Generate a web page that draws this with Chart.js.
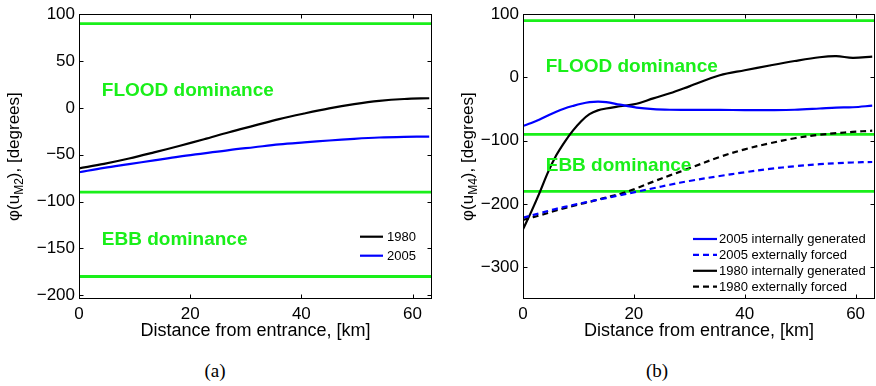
<!DOCTYPE html>
<html>
<head>
<meta charset="utf-8">
<script src="https://cdn.jsdelivr.net/npm/chart.js@4.4.0/dist/chart.umd.min.js"></script>
<style>
  html, body { margin: 0; padding: 0; background: #fff; }
  #wrap { position: relative; width: 876px; height: 386px; overflow: hidden; }
  canvas { position: absolute; top: 0; }
  #phaseM2 { left: 0; }
  #phaseM4 { left: 440px; }
  .cap { position: absolute; top: 360px; line-height: 22px; font: 19px "Liberation Serif", "Times New Roman", serif; transform: translateX(-50%); }
</style>
</head>
<body>
<div id="wrap">
  <canvas id="phaseM2" width="440" height="345"></canvas>
  <canvas id="phaseM4" width="436" height="345"></canvas>
  <div class="cap" style="left:215px">(a)</div>
  <div class="cap" style="left:657px">(b)</div>
</div>
<script>
const SANS = '"Liberation Sans", Arial, Helvetica, sans-serif';
const GREEN = '#1aef1a';
const KM_MAX = 63.5;

// (a) M2 phase along the estuary
const kmM2 = [0, 4.5, 9, 13.5, 18, 22.5, 27, 31.5, 36, 40.5, 45, 49.5, 54, 58.5, 63];
const phiM2_1980 = [-64.5, -59.7, -54, -47.5, -40.7, -33.5, -26, -19, -12, -6, -0.5, 4, 7.5, 9.5, 10.3];
const phiM2_2005 = [-68.7, -64, -60, -56, -52, -48.5, -45, -42, -39, -36.8, -34.8, -33, -31.6, -30.9, -30.6];
const ticksM2 = [-200, -150, -100, -50, 0, 50, 100];

// (b) M4 phase, internally generated vs externally forced
const kmM4 = [0, 1.5, 3, 4.5, 6, 7.5, 9, 10.5, 12, 13.5, 15, 17.5, 20.5, 23.5, 26.5, 30, 35.5, 40, 44.5, 49, 53.5, 56.5, 59.5, 63];
const phiM4_2005_int = [-76.6, -72, -66.5, -60, -54, -49, -45, -41.5, -39, -38, -38.8, -43, -47.5, -50, -51, -51.3, -51.3, -51.5, -51.5, -51, -49, -47.5, -47, -44.5];
const phiM4_2005_ext = [-221.5, -218, -214.5, -211, -207.5, -204.5, -201.5, -198.7, -196, -193.3, -190.5, -186, -180.5, -175, -169.5, -163.5, -155.7, -149.7, -144.5, -140.2, -137, -135.5, -134.3, -133.5];
const phiM4_1980_int = [-240, -212, -182, -150, -123, -102, -84, -69, -58, -52, -49, -45.5, -41.5, -33, -25, -14, 3.5, 11.5, 19, 26, 32, 33.7, 31, 33];
const phiM4_1980_ext = [-225, -221.5, -218, -214, -210, -206.5, -203, -199.5, -196.5, -193, -189.5, -184, -175, -164.5, -154.7, -143.5, -125.5, -113.5, -104, -96, -90.5, -88, -86, -84];
const ticksM4 = [-300, -200, -100, 0, 100];

const kmTicks = [0, 20, 40, 60];
// flood/ebb dominance limits
const dominanceLimits = [90, -90, -180];

const pts = (xs, ys) => xs.map((x, i) => ({ x, y: ys[i] }));

function series(label, xs, ys, color, dashed) {
  return {
    label, data: pts(xs, ys), borderColor: color, borderWidth: 2.2,
    borderDash: dashed ? [6, 4] : [], pointRadius: 0, tension: 0.35, order: 0
  };
}

function limitLines() {
  return dominanceLimits.map(v => ({
    data: [{ x: 0, y: v }, { x: KM_MAX, y: v }],
    borderColor: GREEN, borderWidth: 2.8, pointRadius: 0, order: 10
  }));
}

const minusLabel = v => (v < 0 ? '\u2212' + Math.abs(v) : String(v));

// box, inward ticks, region names, legend and axis titles
const frame = {
  id: 'frame',
  afterDraw(chart, args, o) {
    const { ctx, chartArea: a, scales: { x, y } } = chart;
    ctx.save();
    ctx.strokeStyle = '#000';
    ctx.lineWidth = 1;
    const L = Math.round(a.left) + 0.5, R = Math.round(a.right) - 0.5;
    const T = Math.round(a.top) + 0.5, B = Math.round(a.bottom) - 0.5;
    ctx.strokeRect(L, T, R - L, B - T);
    ctx.beginPath();
    x.ticks.forEach(t => {
      const px = Math.round(x.getPixelForValue(t.value)) + 0.5;
      ctx.moveTo(px, B); ctx.lineTo(px, B - 4);
      ctx.moveTo(px, T); ctx.lineTo(px, T + 4);
    });
    y.ticks.forEach(t => {
      const py = Math.round(y.getPixelForValue(t.value)) + 0.5;
      ctx.moveTo(L, py); ctx.lineTo(L + 4, py);
      ctx.moveTo(R, py); ctx.lineTo(R - 4, py);
    });
    ctx.stroke();

    // dominance region names
    ctx.fillStyle = GREEN;
    ctx.font = 'bold 19px ' + SANS;
    ctx.textAlign = 'left';
    ctx.textBaseline = 'middle';
    o.regions.forEach(r => ctx.fillText(r.text, x.getPixelForValue(r.x), y.getPixelForValue(r.y)));

    // legend inside the lower right corner
    const lg = o.legend;
    ctx.font = '13px ' + SANS;
    chart.data.datasets.filter(d => d.label).forEach((d, i) => {
      const yy = a.bottom + lg.rows[i];
      ctx.strokeStyle = d.borderColor;
      ctx.lineWidth = 2.2;
      ctx.setLineDash(d.borderDash || []);
      ctx.beginPath();
      ctx.moveTo(a.right + lg.x0, yy);
      ctx.lineTo(a.right + lg.x1, yy);
      ctx.stroke();
      ctx.fillStyle = '#000';
      ctx.fillText(d.label, a.right + lg.text, yy + 0.5);
    });
    ctx.setLineDash([]);

    // x title
    ctx.fillStyle = '#000';
    ctx.font = '18px ' + SANS;
    ctx.textAlign = 'center';
    ctx.fillText('Distance from entrance, [km]', (a.left + a.right) / 2, a.bottom + 32);

    // y title with subscript, rotated
    ctx.translate(a.left + o.yTitleDx, (a.top + a.bottom) / 2);
    ctx.rotate(-Math.PI / 2);
    ctx.textAlign = 'left';
    ctx.textBaseline = 'alphabetic';
    const main = '17px ' + SANS, small = '12px ' + SANS;
    const p1 = '\u03c6(u', p3 = '), [degrees]';
    ctx.font = main; const w1 = ctx.measureText(p1).width, w3 = ctx.measureText(p3).width;
    ctx.font = small; const w2 = ctx.measureText(o.sub).width;
    let sx = -(w1 + w2 + w3) / 2;
    ctx.font = main; ctx.fillText(p1, sx, 0); sx += w1;
    ctx.font = small; ctx.fillText(o.sub, sx, 4); sx += w2;
    ctx.font = main; ctx.fillText(p3, sx, 0);
    ctx.restore();
  }
};

function makeChart(id, datasets, cfg) {
  return new Chart(document.getElementById(id), {
    type: 'line',
    data: { datasets },
    options: {
      responsive: false,
      animation: false,
      devicePixelRatio: 1,
      layout: { padding: { top: 10, right: cfg.padRight, left: 0, bottom: 0 } },
      plugins: { legend: { display: false }, tooltip: { enabled: false }, frame: cfg.frame },
      scales: {
        x: {
          type: 'linear', min: 0, max: KM_MAX,
          grid: { display: false, drawTicks: false }, border: { display: false },
          ticks: { color: '#000', font: { family: SANS, size: 17 }, padding: 5, maxRotation: 0, callback: minusLabel },
          afterBuildTicks: s => { s.ticks = kmTicks.map(v => ({ value: v })); },
          afterFit: s => { s.height = 46; }
        },
        y: {
          min: cfg.yMin, max: cfg.yMax,
          grid: { display: false, drawTicks: false }, border: { display: false },
          ticks: { color: '#000', font: { family: SANS, size: 17 }, padding: 4, callback: minusLabel },
          afterBuildTicks: s => { s.ticks = cfg.yTicks.map(v => ({ value: v })); },
          afterFit: s => { s.width = cfg.yWidth; }
        }
      }
    },
    plugins: [frame]
  });
}

makeChart('phaseM2', [
  series('1980', kmM2, phiM2_1980, '#000', false),
  series('2005', kmM2, phiM2_2005, '#0000ff', false),
  ...limitLines()
], {
  yMin: -204, yMax: 100, yTicks: ticksM2, yWidth: 79, padRight: 8,
  frame: {
    sub: 'M2', yTitleDx: -60,
    regions: [{ text: 'FLOOD dominance', x: 4.1, y: 17.8 }, { text: 'EBB dominance', x: 4.1, y: -140.8 }],
    legend: { x0: -72, x1: -49, text: -45, rows: [-62.3, -43.3] }
  }
});

makeChart('phaseM4', [
  series('2005 internally generated', kmM4, phiM4_2005_int, '#0000ff', false),
  series('2005 externally forced', kmM4, phiM4_2005_ext, '#0000ff', true),
  series('1980 internally generated', kmM4, phiM4_1980_int, '#000', false),
  series('1980 externally forced', kmM4, phiM4_1980_ext, '#000', true),
  ...limitLines()
], {
  yMin: -350, yMax: 100, yTicks: ticksM4, yWidth: 83, padRight: 1,
  frame: {
    sub: 'M4', yTitleDx: -50,
    regions: [{ text: 'FLOOD dominance', x: 4.1, y: 16.6 }, { text: 'EBB dominance', x: 4.1, y: -139.8 }],
    legend: { x0: -182, x1: -158, text: -156, rows: [-60, -44.1, -28.2, -12.3] }
  }
});
</script>
</body>
</html>
